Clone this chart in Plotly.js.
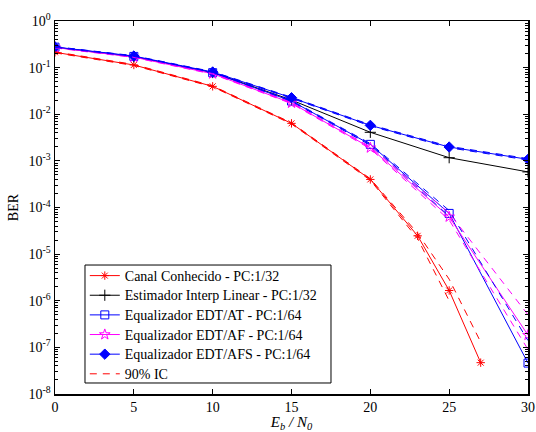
<!DOCTYPE html>
<html>
<head>
<meta charset="utf-8">
<script src="https://cdn.plot.ly/plotly-3.0.1.min.js"></script>
<style>html,body{margin:0;padding:0;background:#fff;}#chart{width:536px;height:432px;}</style>
</head>
<body>
<div id="chart"></div>
<script>
// x values (Eb/N0)
const ebn0 = [0, 5, 10, 15, 20, 25, 30];
const ebn0Canal = [0, 5, 10, 15, 20, 23, 25, 27];

// BER series
const berCanal   = [0.213, 0.114, 0.0397, 0.00638, 4.0e-4, 2.47e-5, 1.66e-6, 4.7e-8];
const berCanalLo = [0.208, 0.111, 0.0387, 0.00620, 3.85e-4, 2.15e-5, 1.0e-6, null];
const berCanalHi = [0.218, 0.117, 0.0407, 0.00656, 4.15e-4, 2.8e-5, 2.9e-6, 1.3e-7];

const berInterp  = [0.273, 0.171, 0.0785, 0.0202, 0.0041, 0.00117, 5.8e-4];

const berAT      = [0.275, 0.174, 0.0780, 0.0192, 0.00226, 7.47e-5, 4.6e-8];
const berATLo    = [0.270, 0.171, 0.0765, 0.0187, 0.00216, 6.5e-5, null];
const berATHi    = [0.280, 0.177, 0.0795, 0.0197, 0.00236, 8.6e-5, 1.4e-7];

const berAF      = [0.270, 0.168, 0.0740, 0.0174, 0.00191, 6.3e-5, 1.83e-7];
const berAFLo    = [0.265, 0.165, 0.0725, 0.0169, 0.00182, 5.4e-5, 9.0e-8];
const berAFHi    = [0.275, 0.171, 0.0755, 0.0179, 0.00200, 7.6e-5, 5.0e-7];

const berAFS     = [0.277, 0.177, 0.0805, 0.0226, 0.00578, 0.00198, 0.00108];
const berAFSLo   = [0.272, 0.174, 0.0790, 0.0220, 0.00560, 0.00191, 0.00104];
const berAFSHi   = [0.282, 0.180, 0.0820, 0.0232, 0.00596, 0.00205, 0.00112];

const seriesNames = [
  'Canal Conhecido - PC:1/32',
  'Estimador Interp Linear - PC:1/32',
  'Equalizador EDT/AT - PC:1/64',
  'Equalizador EDT/AF - PC:1/64',
  'Equalizador EDT/AFS - PC:1/64',
  '90% IC'
];

const yTickVals = [1, 1e-1, 1e-2, 1e-3, 1e-4, 1e-5, 1e-6, 1e-7, 1e-8];
const yTickText = ['10<sup>0</sup>','10<sup>-1</sup>','10<sup>-2</sup>','10<sup>-3</sup>','10<sup>-4</sup>','10<sup>-5</sup>','10<sup>-6</sup>','10<sup>-7</sup>','10<sup>-8</sup>'];
const yMinorVals = [];
for (let d = -8; d < 0; d++) for (let k = 2; k <= 9; k++) yMinorVals.push(k * Math.pow(10, d));

const RED = '#ff0000', BLK = '#000000', BLUE = '#0000ff', MAG = '#ff00ff';

function legName(s) { return '<span style="font-size:14px">' + s + '</span>'; }

function solid(x, y, name, color, symbol, size) {
  return {x: x, y: y, name: legName(name), type: 'scatter', mode: 'lines+markers',
    line: {color: color, width: 1},
    marker: {symbol: symbol, size: size, color: color, line: {color: color, width: 1}}};
}
function dash(x, y, color, name, show) {
  return {x: x, y: y, name: name ? legName(name) : '', type: 'scatter', mode: 'lines', showlegend: !!show,
    connectgaps: false,
    line: {color: color, width: 1, dash: '7px,6px'}};
}

const traces = [
  solid(ebn0Canal, berCanal, seriesNames[0], RED, 'asterisk-open', 7),
  solid(ebn0, berInterp, seriesNames[1], BLK, 'cross-thin-open', 8),
  solid(ebn0, berAT, seriesNames[2], BLUE, 'square-open', 8),
  solid(ebn0, berAF, seriesNames[3], MAG, 'star-open', 8),
  solid(ebn0, berAFS, seriesNames[4], BLUE, 'diamond', 8),
  dash(ebn0Canal, berCanalHi, RED, seriesNames[5], true),
  dash(ebn0Canal, berCanalLo, RED),
  dash(ebn0, berATHi, BLUE),
  dash(ebn0, berATLo, BLUE),
  dash(ebn0, berAFHi, MAG),
  dash(ebn0, berAFLo, MAG),
  dash(ebn0, berAFSHi, BLUE),
  dash(ebn0, berAFSLo, BLUE)
];

const FONT = 'Times New Roman';

const layout = {
  width: 536, height: 432,
  margin: {l: 55, r: 8, t: 21, b: 38},
  paper_bgcolor: '#fff', plot_bgcolor: '#fff',
  font: {family: FONT, size: 14, color: '#000'},
  showlegend: true,
  legend: {
    x: 0.063, y: 0.014, xanchor: 'left', yanchor: 'bottom',
    bgcolor: 'rgba(0,0,0,0)', borderwidth: 0,
    font: {family: FONT, size: 12.8, color: '#000'},
    tracegroupgap: 0
  },
  shapes: [{
    type: 'rect', xref: 'paper', yref: 'paper', layer: 'above',
    x0: 0.0634, x1: 0.5835, y0: 0.0295, y1: 0.3458,
    fillcolor: '#ffffff', line: {color: '#000', width: 1}
  }],
  xaxis: {
    range: [0, 30], tickmode: 'linear', tick0: 0, dtick: 5,
    ticks: 'inside', ticklen: 5, tickcolor: '#000',
    showline: true, linecolor: '#000', linewidth: 1.5, mirror: 'ticks',
    showgrid: false, zeroline: false,
    tickfont: {family: FONT, size: 14},
    title: {text: '<i>E</i><sub><i>b</i></sub><i> / N</i><sub><i>0</i></sub>', font: {family: FONT, size: 15}, standoff: 4}
  },
  yaxis: {
    type: 'log', range: [-8, 0],
    tickmode: 'array', tickvals: yTickVals, ticktext: yTickText,
    ticks: 'inside', ticklen: 5, tickcolor: '#000',
    minor: {tickmode: 'array', tickvals: yMinorVals, ticks: 'inside', ticklen: 3, tickcolor: '#000', showgrid: false},
    showline: true, linecolor: '#000', linewidth: 1.5, mirror: 'ticks',
    showgrid: false, zeroline: false,
    tickfont: {family: FONT, size: 14},
    title: {text: 'BER', font: {family: FONT, size: 14}, standoff: 6}
  }
};

Plotly.newPlot('chart', traces, layout, {displayModeBar: false, staticPlot: true});
</script>
</body>
</html>
